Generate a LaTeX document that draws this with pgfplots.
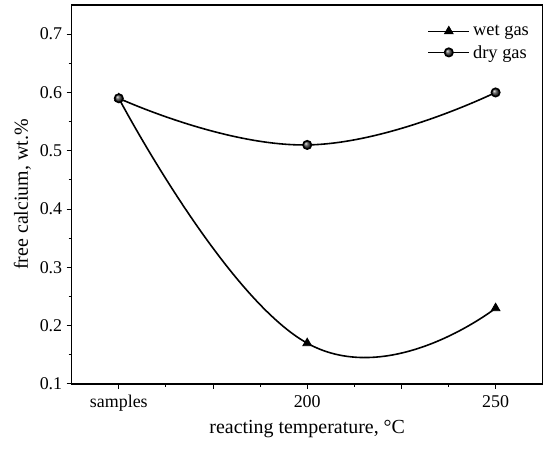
\documentclass[border=0pt]{standalone}
\usepackage{pgfplots}
\pgfplotsset{compat=1.18}
\usepackage{fontspec}
\setmainfont{Liberation Serif}
\begin{document}
\begin{tikzpicture}
\begin{axis}[
  scale only axis,
  width=471bp, height=379bp,
  xmin=-0.5, xmax=4.5,
  ymin=0.1, ymax=0.75,
  xtick={0,1,2,3,4},
  xticklabels={samples,,200,,250},
  ytick={0.1,0.2,0.3,0.4,0.5,0.6,0.7},
  minor x tick num=1,
  minor y tick num=1,
  tick align=outside,
  xtick pos=left, ytick pos=left,
  major tick length=5bp,
  minor tick length=3bp,
  every tick/.style={black, line width=1pt},
  axis line style={line width=1.2pt},
  /pgf/number format/assume math mode=true,
  yticklabel style={/pgf/number format/fixed, /pgf/number format/precision=1, /pgf/number format/fixed zerofill, xshift=-1bp},
  xticklabel style={yshift=-3bp},
  tick label style={font=\fontsize{18}{20}\selectfont},
  label style={font=\fontsize{20}{22}\selectfont},
  xlabel={reacting temperature, °C},
  ylabel={free calcium, wt.\%},
  xlabel style={yshift=-2bp},
  ylabel style={yshift=2bp},
  legend style={draw=none, fill=none, at={(0.755,0.948)}, anchor=north west, inner sep=0pt, font=\fontsize{18.5}{20}\selectfont, row sep=7bp, nodes={inner ysep=0.5bp, inner xsep=3bp}},
  legend cell align=left,
  legend image code/.code={\draw[#1, line width=1.6pt, mark repeat=2, mark phase=2] plot coordinates {(0bp,0bp) (20.5bp,0bp) (41bp,0bp)};},
]
\addplot[black, line width=1.6pt, smooth, tension=0.8, mark=triangle*, mark size=5bp, mark options={fill=black, line width=0.8pt}]
  coordinates {(0,0.59) (2,0.17) (4,0.23)};
\addlegendentry{wet gas}
\addplot[black, line width=1.6pt, smooth, tension=0.8, mark=ball, mark size=4.2bp, mark options={ball color=black!70}]
  coordinates {(0,0.59) (2,0.51) (4,0.60)};
\addlegendentry{dry gas}
\coordinate (sw) at (rel axis cs:0,0);
\coordinate (ne) at (rel axis cs:1,1);
\end{axis}
\pgfresetboundingbox
\path (sw) ++(-71.7bp,-69bp) coordinate (a);
\path (ne) ++(7.3bp,5bp) coordinate (b);
\path (a) rectangle (b);
\end{tikzpicture}
\end{document}
